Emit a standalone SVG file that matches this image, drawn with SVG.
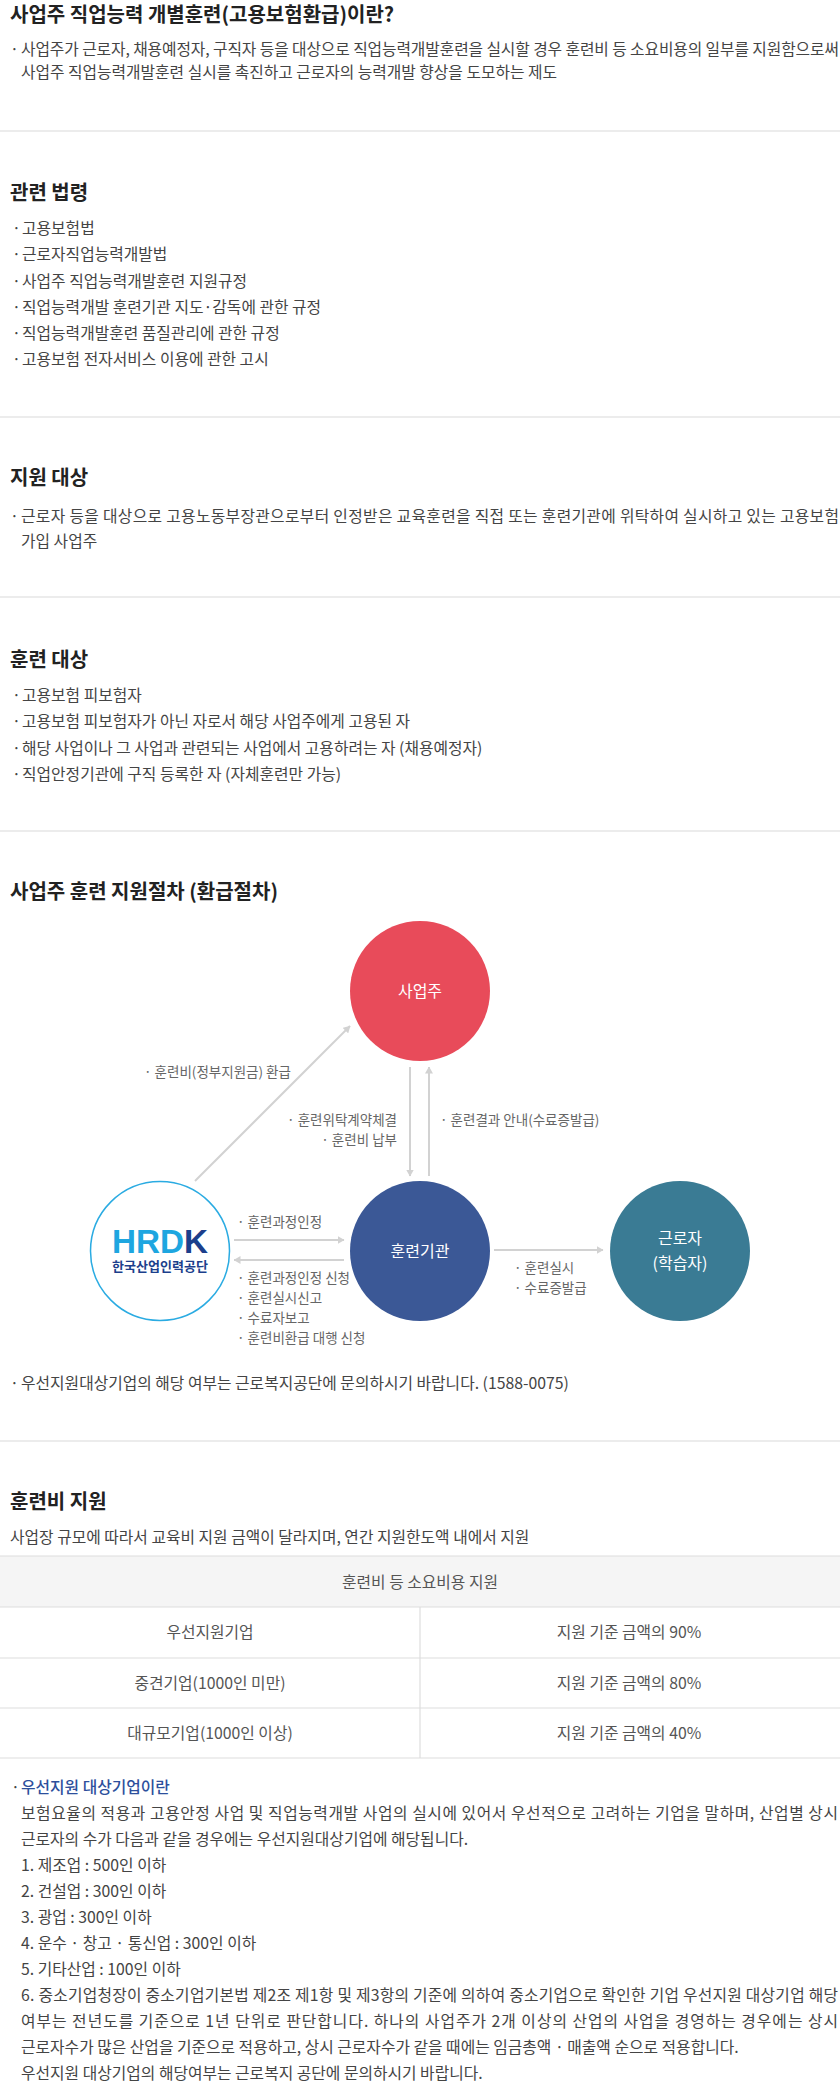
<svg xmlns="http://www.w3.org/2000/svg" width="840" height="2081" viewBox="0 0 840 2081">
<style>
text{font-family:"Noto Sans CJK KR","Noto Sans",sans-serif}
.h{font-size:20px;font-weight:700;fill:#222}
.t{font-size:15.8px;fill:#444}
.s{font-size:13.5px;fill:#666}
.c{font-size:16px;fill:#fff;text-anchor:middle}
.sep{stroke:#e6e6e6;stroke-width:1.5}
.tl{stroke:#dedede;stroke-width:1.2}
.ar{stroke:#d2d2d2;stroke-width:2;fill:none;marker-end:url(#ah)}
.m{text-anchor:middle}
</style>
<defs>
<marker id="ah" viewBox="0 0 7 8" refX="6.5" refY="4" markerWidth="7" markerHeight="8" markerUnits="userSpaceOnUse" orient="auto">
<path d="M0,0 L7,4 L0,8 z" fill="#d2d2d2"/>
</marker>
</defs>
<rect width="840" height="2081" fill="#fff"/>

<g id="sec-intro">
<text class="h" x="10" y="21.5">사업주 직업능력 개별훈련(고용보험환급)이란?</text>
<text class="t" x="10" y="54.5">·</text>
<text class="t" x="21" y="54.5" textLength="818">사업주가 근로자, 채용예정자, 구직자 등을 대상으로 직업능력개발훈련을 실시할 경우 훈련비 등 소요비용의 일부를 지원함으로써</text>
<text class="t" x="21" y="77.5" textLength="536">사업주 직업능력개발훈련 실시를 촉진하고 근로자의 능력개발 향상을 도모하는 제도</text>
<line class="sep" x1="0" y1="131" x2="840" y2="131"/>
</g>

<g id="sec-law">
<text class="h" x="10" y="199.5">관련 법령</text>
<text class="t" x="12" y="233.5">·</text><text class="t" x="22" y="233.5">고용보험법</text>
<text class="t" x="12" y="259.5">·</text><text class="t" x="22" y="259.5">근로자직업능력개발법</text>
<text class="t" x="12" y="286.5">·</text><text class="t" x="22" y="286.5">사업주 직업능력개발훈련 지원규정</text>
<text class="t" x="12" y="312.5">·</text><text class="t" x="22" y="312.5">직업능력개발 훈련기관 지도·감독에 관한 규정</text>
<text class="t" x="12" y="338.5">·</text><text class="t" x="22" y="338.5">직업능력개발훈련 품질관리에 관한 규정</text>
<text class="t" x="12" y="364.5">·</text><text class="t" x="22" y="364.5">고용보험 전자서비스 이용에 관한 고시</text>
<line class="sep" x1="0" y1="417" x2="840" y2="417"/>
</g>

<g id="sec-target">
<text class="h" x="10" y="484.5">지원 대상</text>
<text class="t" x="10" y="521.5">·</text>
<text class="t" x="21" y="521.5" textLength="818">근로자 등을 대상으로 고용노동부장관으로부터 인정받은 교육훈련을 직접 또는 훈련기관에 위탁하여 실시하고 있는 고용보험</text>
<text class="t" x="21" y="547">가입 사업주</text>
<line class="sep" x1="0" y1="597" x2="840" y2="597"/>
</g>

<g id="sec-trainee">
<text class="h" x="10" y="666.5">훈련 대상</text>
<text class="t" x="12" y="700.5">·</text><text class="t" x="22" y="700.5">고용보험 피보험자</text>
<text class="t" x="12" y="726.5">·</text><text class="t" x="22" y="726.5">고용보험 피보험자가 아닌 자로서 해당 사업주에게 고용된 자</text>
<text class="t" x="12" y="753.5">·</text><text class="t" x="22" y="753.5">해당 사업이나 그 사업과 관련되는 사업에서 고용하려는 자 (채용예정자)</text>
<text class="t" x="12" y="779.5">·</text><text class="t" x="22" y="779.5">직업안정기관에 구직 등록한 자 (자체훈련만 가능)</text>
<line class="sep" x1="0" y1="831" x2="840" y2="831"/>
</g>

<g id="sec-process">
<text class="h" x="10" y="898.5">사업주 훈련 지원절차 (환급절차)</text>
</g>

<g id="connectors">
<line class="ar" x1="195" y1="1181" x2="350" y2="1026"/>
<line class="ar" x1="410" y1="1067" x2="410" y2="1176"/>
<line class="ar" x1="429" y1="1176" x2="429" y2="1067"/>
<line class="ar" x1="234" y1="1240" x2="344" y2="1240"/>
<line class="ar" x1="344" y1="1260" x2="234" y2="1260"/>
<line class="ar" x1="494" y1="1250" x2="603" y2="1250"/>
<text class="s" x="144" y="1077">· 훈련비(정부지원금) 환급</text>
<text class="s" x="397" y="1125" text-anchor="end">· 훈련위탁계약체결</text>
<text class="s" x="397" y="1145" text-anchor="end">· 훈련비 납부</text>
<text class="s" x="440" y="1125">· 훈련결과 안내(수료증발급)</text>
<text class="s" x="237" y="1227">· 훈련과정인정</text>
<text class="s" x="237" y="1283">· 훈련과정인정 신청</text>
<text class="s" x="237" y="1303">· 훈련실시신고</text>
<text class="s" x="237" y="1323">· 수료자보고</text>
<text class="s" x="237" y="1343">· 훈련비환급 대행 신청</text>
<text class="s" x="514" y="1273">· 훈련실시</text>
<text class="s" x="514" y="1293">· 수료증발급</text>
</g>

<g id="node-employer">
<circle cx="420" cy="991" r="70" fill="#e84b5a"/>
<text class="c" x="420" y="997">사업주</text>
</g>

<g id="node-hrdk">
<circle cx="160" cy="1251" r="69.5" fill="#fff" stroke="#2aabe2" stroke-width="1.5"/>
<text x="112" y="1253" textLength="96" lengthAdjust="spacingAndGlyphs" style="font-family:'Liberation Sans',Arial,sans-serif;font-size:33px;font-weight:700"><tspan fill="#1ea6e0">HRD</tspan><tspan fill="#1c3f8c">K</tspan></text>
<text x="112" y="1271" textLength="96" lengthAdjust="spacingAndGlyphs" style="font-size:13px;font-weight:700;fill:#1c3f8c">한국산업인력공단</text>
</g>

<g id="node-institution">
<circle cx="420" cy="1251" r="70" fill="#3b5896"/>
<text class="c" x="420" y="1257">훈련기관</text>
</g>

<g id="node-worker">
<circle cx="680" cy="1251" r="70" fill="#3a7b94"/>
<text class="c" x="680" y="1244">근로자</text>
<text class="c" x="680" y="1269">(학습자)</text>
</g>

<g id="note">
<text class="t" x="10" y="1388.5">·</text>
<text class="t" x="21" y="1388.5">우선지원대상기업의 해당 여부는 근로복지공단에 문의하시기 바랍니다. (1588-0075)</text>
<line class="sep" x1="0" y1="1441" x2="840" y2="1441"/>
</g>

<g id="sec-cost">
<text class="h" x="10" y="1508.5">훈련비 지원</text>
<text class="t" x="10" y="1542.5">사업장 규모에 따라서 교육비 지원 금액이 달라지며, 연간 지원한도액 내에서 지원</text>
</g>

<g id="table">
<rect x="0" y="1556" width="840" height="51" fill="#f5f5f5"/>
<line class="tl" x1="0" y1="1556" x2="840" y2="1556"/>
<line class="tl" x1="0" y1="1607" x2="840" y2="1607"/>
<line class="tl" x1="0" y1="1658" x2="840" y2="1658"/>
<line class="tl" x1="0" y1="1708" x2="840" y2="1708"/>
<line class="tl" x1="0" y1="1758" x2="840" y2="1758"/>
<line class="tl" x1="420" y1="1607" x2="420" y2="1758"/>
<text class="t m" x="420" y="1587.5" style="fill:#555">훈련비 등 소요비용 지원</text>
<text class="t m" x="210" y="1638" style="fill:#555">우선지원기업</text>
<text class="t m" x="629" y="1638" style="fill:#555">지원 기준 금액의 90%</text>
<text class="t m" x="210" y="1689" style="fill:#555">중견기업(1000인 미만)</text>
<text class="t m" x="629" y="1689" style="fill:#555">지원 기준 금액의 80%</text>
<text class="t m" x="210" y="1739" style="fill:#555">대규모기업(1000인 이상)</text>
<text class="t m" x="629" y="1739" style="fill:#555">지원 기준 금액의 40%</text>
</g>

<g id="sec-priority">
<text class="t" x="11" y="1792.5">·</text>
<text class="t" x="21" y="1792.5" style="fill:#2d4f9c;font-weight:500">우선지원 대상기업이란</text>
<text class="t" x="21" y="1818.5" textLength="817">보험요율의 적용과 고용안정 사업 및 직업능력개발 사업의 실시에 있어서 우선적으로 고려하는 기업을 말하며, 산업별 상시</text>
<text class="t" x="21" y="1844.5">근로자의 수가 다음과 같을 경우에는 우선지원대상기업에 해당됩니다.</text>
<text class="t" x="21" y="1870.5">1. 제조업 : 500인 이하</text>
<text class="t" x="21" y="1896.5">2. 건설업 : 300인 이하</text>
<text class="t" x="21" y="1922.5">3. 광업 : 300인 이하</text>
<text class="t" x="21" y="1948.5">4. 운수 · 창고 · 통신업 : 300인 이하</text>
<text class="t" x="21" y="1974.5">5. 기타산업 : 100인 이하</text>
<text class="t" x="21" y="2000.5" textLength="817">6. 중소기업청장이 중소기업기본법 제2조 제1항 및 제3항의 기준에 의하여 중소기업으로 확인한 기업 우선지원 대상기업 해당</text>
<text class="t" x="21" y="2026.5" textLength="817">여부는 전년도를 기준으로 1년 단위로 판단합니다. 하나의 사업주가 2개 이상의 산업의 사업을 경영하는 경우에는 상시</text>
<text class="t" x="21" y="2052.5">근로자수가 많은 산업을 기준으로 적용하고, 상시 근로자수가 같을 때에는 임금총액 · 매출액 순으로 적용합니다.</text>
<text class="t" x="21" y="2078.5">우선지원 대상기업의 해당여부는 근로복지 공단에 문의하시기 바랍니다.</text>
</g>
</svg>
